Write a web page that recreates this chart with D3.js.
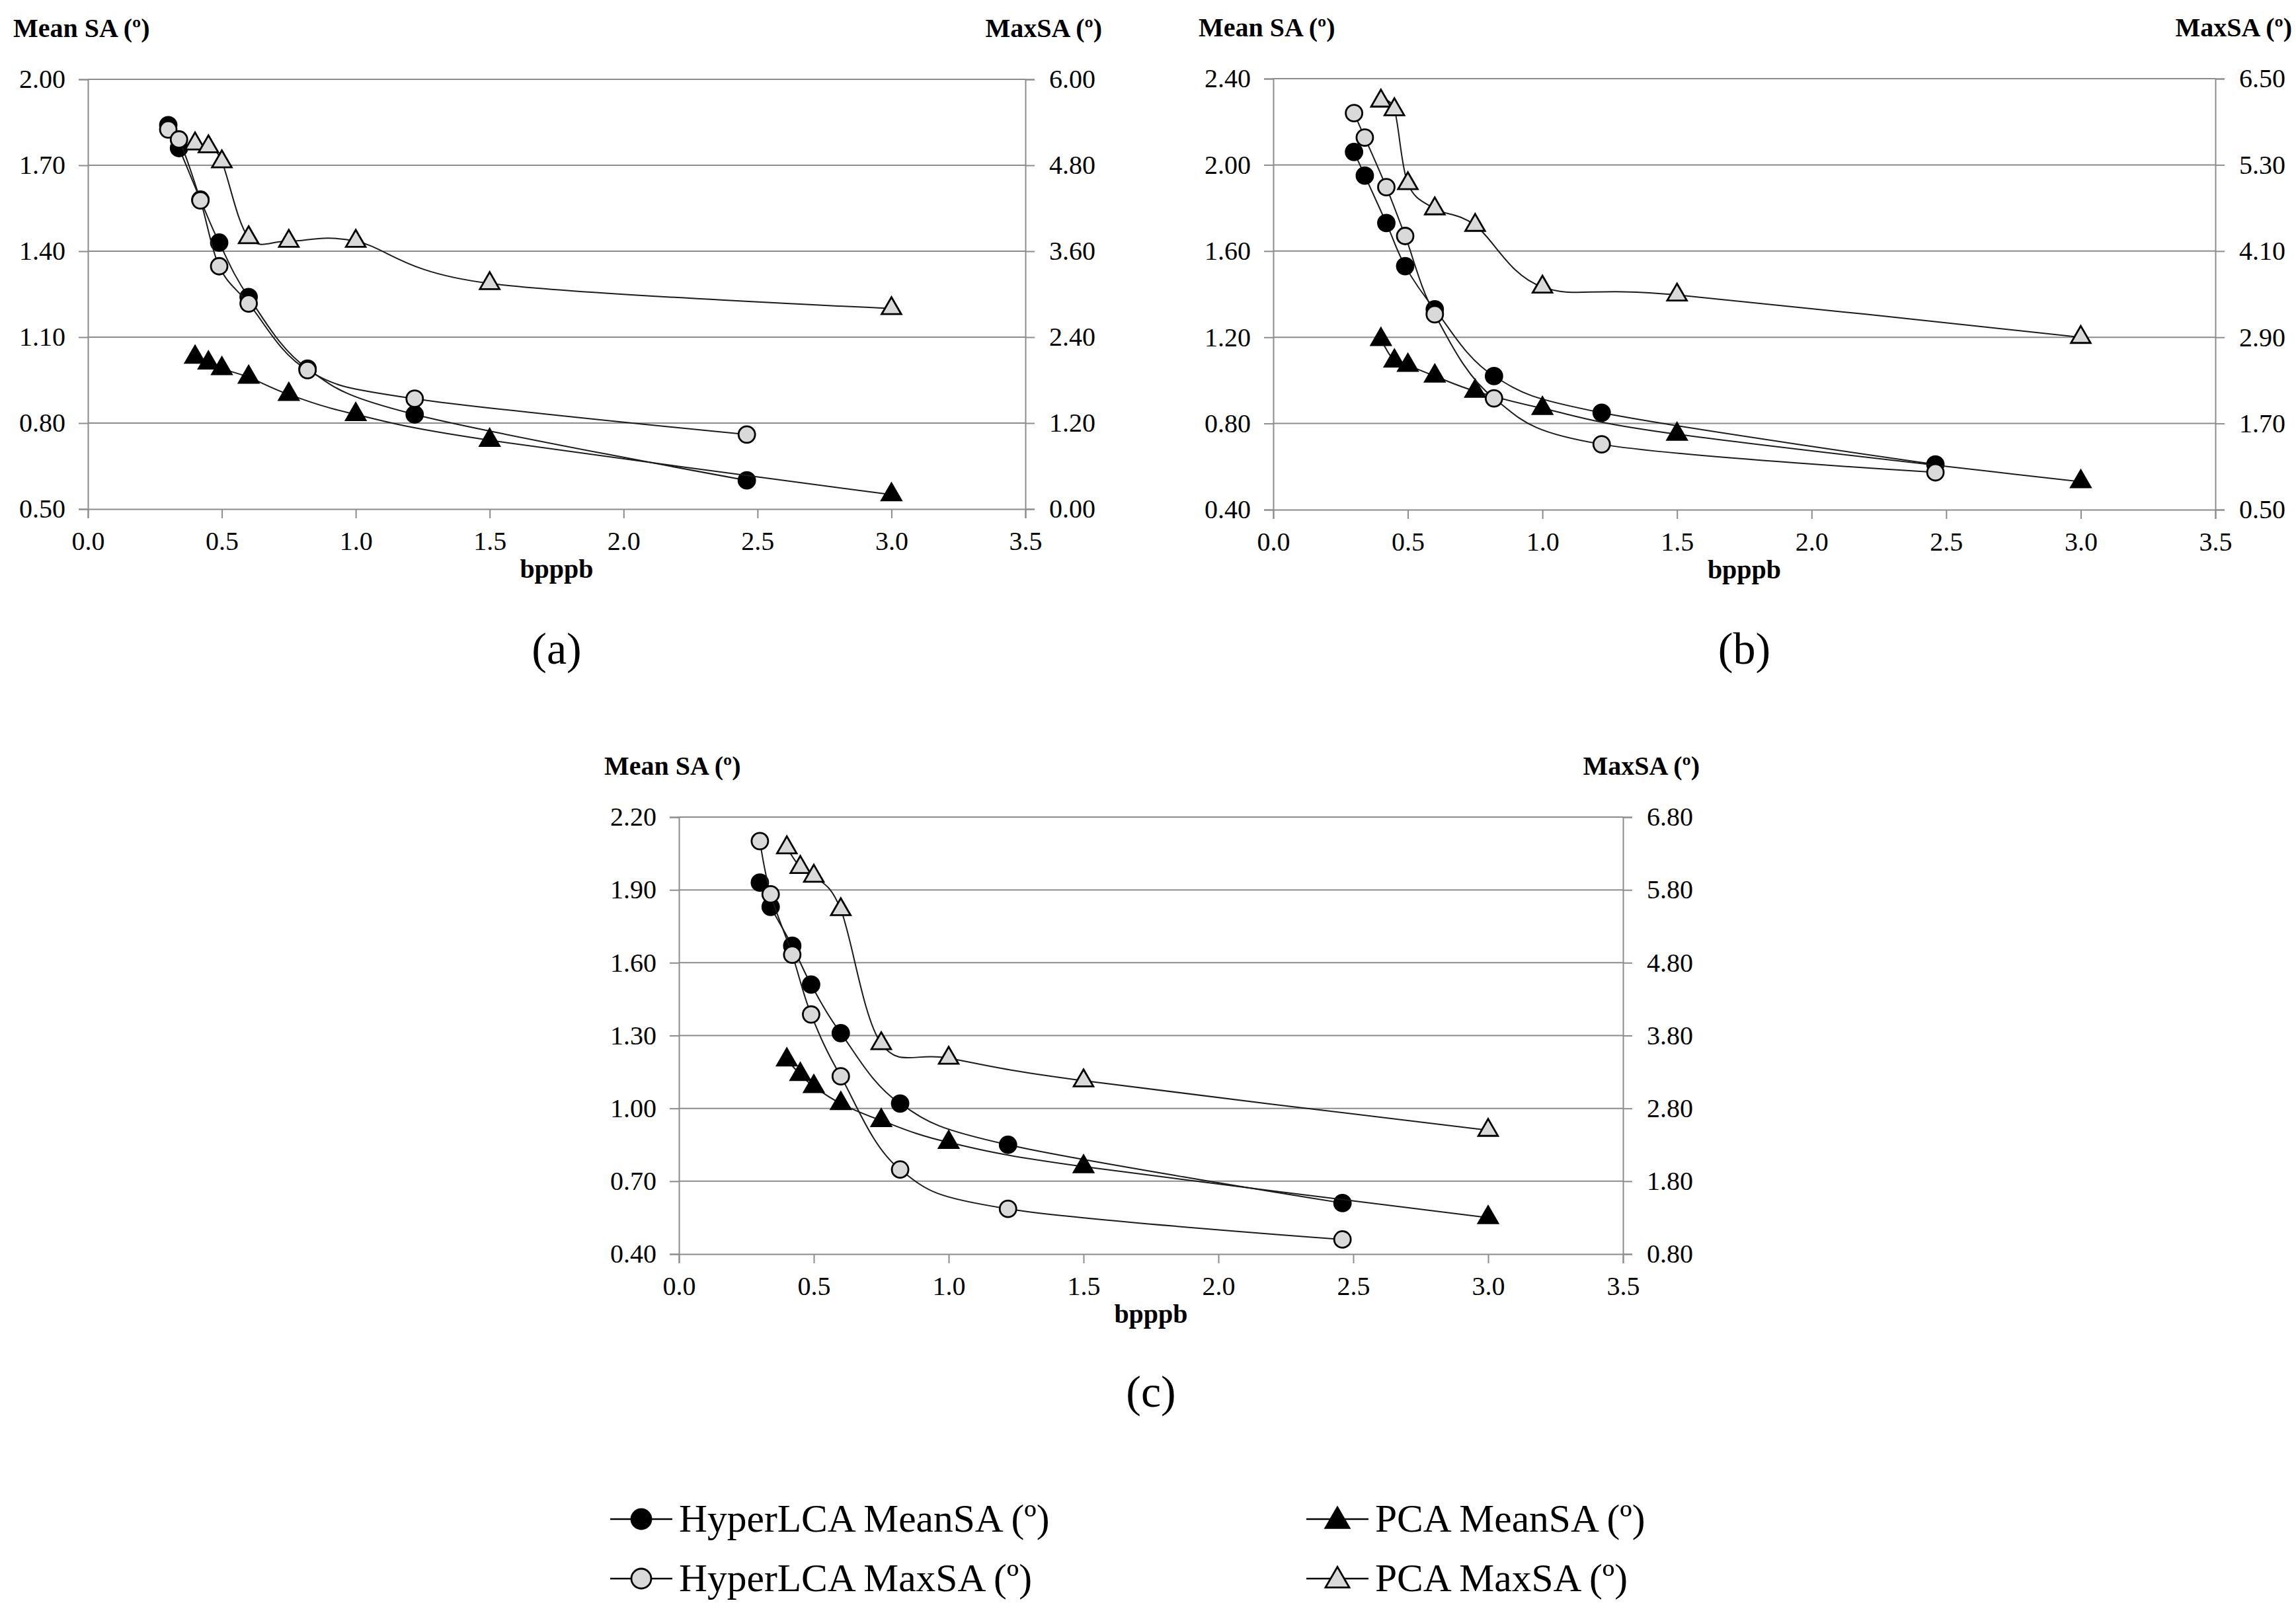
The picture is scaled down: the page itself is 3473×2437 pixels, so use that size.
<!DOCTYPE html>
<html>
<head>
<meta charset="utf-8">
<script src="https://cdn.jsdelivr.net/npm/d3@7"></script>
<style>
  body { margin: 0; background: #fff; }
</style>
</head>
<body>
<svg id="chart" width="3473" height="2437"></svg>
<script>
// x values (bits per pixel per band)
const hyperBpppb = [0.30, 0.34, 0.42, 0.49, 0.60, 0.82, 1.22, 2.46];
const pcaBpppb = [0.40, 0.45, 0.50, 0.60, 0.75, 1.00, 1.50, 3.00];

// panel (a)
const hyperMeanA = [1.84, 1.76, 1.58, 1.43, 1.24, 0.99, 0.83, 0.60];
const hyperMaxA = [5.30, 5.16, 4.31, 3.39, 2.87, 1.94, 1.54, 1.04];
const pcaMeanA = [1.03, 1.01, 0.99, 0.96, 0.90, 0.83, 0.74, 0.55];
const pcaMaxA = [5.10, 5.06, 4.85, 3.79, 3.74, 3.74, 3.15, 2.80];

// panel (b)
const hyperMeanB = [2.06, 1.95, 1.73, 1.53, 1.33, 1.02, 0.85, 0.61];
const hyperMaxB = [6.02, 5.68, 4.99, 4.31, 3.22, 2.05, 1.41, 1.02];
const pcaMeanB = [1.19, 1.09, 1.07, 1.02, 0.95, 0.87, 0.75, 0.53];
const pcaMaxB = [6.19, 6.07, 5.04, 4.69, 4.46, 3.60, 3.49, 2.90];

// panel (c)
const hyperMeanC = [1.93, 1.83, 1.67, 1.51, 1.31, 1.02, 0.85, 0.61];
const hyperMaxC = [6.47, 5.74, 4.91, 4.09, 3.24, 1.96, 1.42, 1.00];
const pcaMeanC = [1.20, 1.14, 1.09, 1.02, 0.95, 0.86, 0.76, 0.55];
const pcaMaxC = [6.38, 6.11, 5.99, 5.53, 3.69, 3.49, 3.18, 2.50];

// tick labels
const xTicks = [0, 0.5, 1.0, 1.5, 2.0, 2.5, 3.0, 3.5];
const leftTicksA = [0.50, 0.80, 1.10, 1.40, 1.70, 2.00];
const rightTicksA = [0.00, 1.20, 2.40, 3.60, 4.80, 6.00];
const leftTicksB = [0.40, 0.80, 1.20, 1.60, 2.00, 2.40];
const rightTicksB = [0.50, 1.70, 2.90, 4.10, 5.30, 6.50];
const leftTicksC = [0.40, 0.70, 1.00, 1.30, 1.60, 1.90, 2.20];
const rightTicksC = [0.80, 1.80, 2.80, 3.80, 4.80, 5.80, 6.80];

const seriesNames = ["HyperLCA MeanSA (º)", "PCA MeanSA (º)", "HyperLCA MaxSA (º)", "PCA MaxSA (º)"];

const FONT = "Liberation Serif";
const svg = d3.select("#chart").attr("font-family", FONT);
const gridColor = "#8c8c8c";
const markFill = { dark: "#000", light: "#d9d9d9" };

const panels = [
  { label: "(a)", box: { l: 133, r: 1551, t: 120, b: 770 }, left: leftTicksA, right: rightTicksA,
    hm: hyperMeanA, hx: hyperMaxA, pm: pcaMeanA, px: pcaMaxA, labelY: 1004 },
  { label: "(b)", box: { l: 1926, r: 3351, t: 119, b: 771 }, left: leftTicksB, right: rightTicksB,
    hm: hyperMeanB, hx: hyperMaxB, pm: pcaMeanB, px: pcaMaxB, labelY: 1004 },
  { label: "(c)", box: { l: 1027, r: 2455, t: 1236, b: 1897 }, left: leftTicksC, right: rightTicksC,
    hm: hyperMeanC, hx: hyperMaxC, pm: pcaMeanC, px: pcaMaxC, labelY: 2128 }
];

function drawMarker(g, kind, fill, x, y, big) {
  if (kind === "circle") {
    g.append("circle").attr("cx", x).attr("cy", y).attr("r", big ? 15 : 12.5)
      .attr("fill", fill).attr("stroke", "#000").attr("stroke-width", 2.8);
  } else {
    g.append("path").attr("d", d3.symbol(d3.symbolTriangle, big ? 560 : 380)())
      .attr("transform", `translate(${x},${y})`)
      .attr("fill", fill).attr("stroke", "#000").attr("stroke-width", 2.8);
  }
}

function addText(g, x, y, size, str, opts = {}) {
  return g.append("text").attr("x", x).attr("y", y)
    .attr("font-family", FONT).attr("font-size", size)
    .attr("font-weight", opts.bold ? "bold" : "normal")
    .attr("text-anchor", opts.anchor || "start").attr("fill", "#000").text(str);
}

panels.forEach(p => {
  const { l, r, t, b } = p.box;
  const g = svg.append("g");

  const x = d3.scaleLinear().domain([0, 3.5]).range([l, r]);
  const yL = d3.scaleLinear().domain([p.left[0], p.left[p.left.length - 1]]).range([b, t]);
  const yR = d3.scaleLinear().domain([p.right[0], p.right[p.right.length - 1]]).range([b, t]);

  // gridlines
  g.append("g").selectAll("line").data(p.left.slice(1)).join("line")
    .attr("x1", l).attr("x2", r).attr("y1", d => yL(d)).attr("y2", d => yL(d))
    .attr("stroke", gridColor).attr("stroke-width", 2);

  // axes
  const axL = g.append("g").attr("transform", `translate(${l},0)`)
    .call(d3.axisLeft(yL).tickValues(p.left).tickFormat(d3.format(".2f")).tickSize(14).tickPadding(20));
  const axR = g.append("g").attr("transform", `translate(${r},0)`)
    .call(d3.axisRight(yR).tickValues(p.right).tickFormat(d3.format(".2f")).tickSize(14).tickPadding(22));
  const axB = g.append("g").attr("transform", `translate(0,${b})`)
    .call(d3.axisBottom(x).tickValues(xTicks).tickFormat(d3.format(".1f")).tickSize(14).tickPadding(20));
  [axL, axR, axB].forEach(a => {
    a.attr("font-family", FONT).attr("font-size", 40);
    a.select(".domain").attr("stroke", gridColor).attr("stroke-width", 2);
    a.selectAll(".tick line").attr("stroke", gridColor).attr("stroke-width", 2);
    a.selectAll(".tick text").attr("font-family", FONT).attr("font-size", 40).attr("fill", "#000");
  });

  // titles
  addText(g, l - 113, t - 64, 40, "Mean SA (º)", { bold: true });
  addText(g, r + 116, t - 64, 40, "MaxSA (º)", { bold: true, anchor: "end" });
  addText(g, (l + r) / 2, b + 104, 40, "bpppb", { bold: true, anchor: "middle" });
  addText(g, (l + r) / 2, p.labelY, 68, p.label, { anchor: "middle" });

  const series = [
    { xs: hyperBpppb, ys: p.hm, y: yL, kind: "circle", fill: markFill.dark },
    { xs: pcaBpppb, ys: p.pm, y: yL, kind: "triangle", fill: markFill.dark },
    { xs: hyperBpppb, ys: p.hx, y: yR, kind: "circle", fill: markFill.light },
    { xs: pcaBpppb, ys: p.px, y: yR, kind: "triangle", fill: markFill.light }
  ];

  series.forEach(s => {
    const pts = s.xs.map((v, i) => [x(v), s.y(s.ys[i])]);
    g.append("path").attr("d", d3.line().curve(d3.curveCardinal.tension(0))(pts))
      .attr("fill", "none").attr("stroke", "#1a1a1a").attr("stroke-width", 2);
    pts.forEach(pt => drawMarker(g, s.kind, s.fill, pt[0], pt[1], false));
  });
});

// legend
const legendItems = [
  { name: seriesNames[0], kind: "circle", fill: markFill.dark, x: 923, y: 2298 },
  { name: seriesNames[1], kind: "triangle", fill: markFill.dark, x: 1976, y: 2298 },
  { name: seriesNames[2], kind: "circle", fill: markFill.light, x: 923, y: 2388 },
  { name: seriesNames[3], kind: "triangle", fill: markFill.light, x: 1976, y: 2388 }
];
const lg = svg.append("g");
legendItems.forEach(it => {
  lg.append("line").attr("x1", it.x).attr("x2", it.x + 94).attr("y1", it.y).attr("y2", it.y)
    .attr("stroke", "#000").attr("stroke-width", 2.5);
  drawMarker(lg, it.kind, it.fill, it.x + 47, it.y + (it.kind === "triangle" ? 3 : 0), true);
  addText(lg, it.x + 104, it.y + 19, 59.5, it.name);
});
</script>
</body>
</html>
